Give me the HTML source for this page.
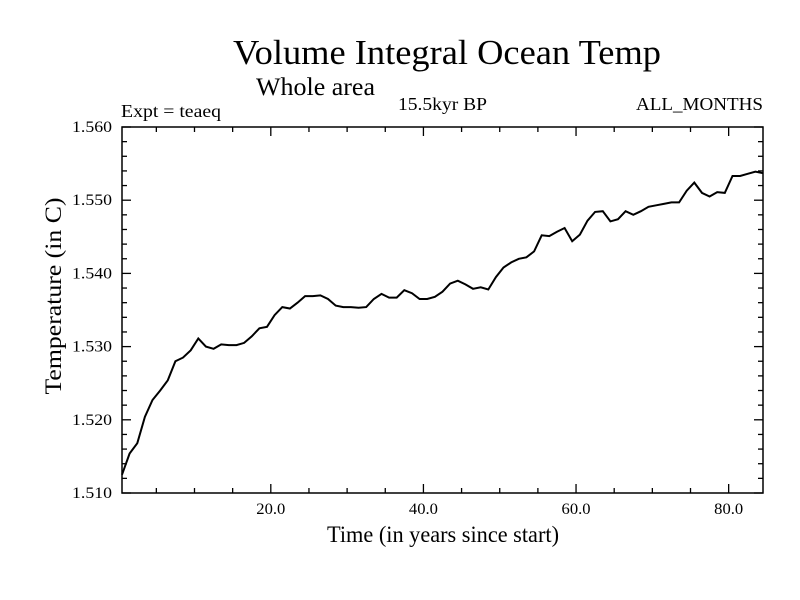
<!DOCTYPE html>
<html><head><meta charset="utf-8"><style>
body{margin:0;background:#fff;}
svg{display:block;font-family:"Liberation Serif",serif;}
</style></head><body>
<svg id="chart" width="800" height="600">
<text x="233" y="64" font-size="35" textLength="428" lengthAdjust="spacingAndGlyphs">Volume Integral Ocean Temp</text>
<text x="256" y="95" font-size="25" textLength="119" lengthAdjust="spacingAndGlyphs">Whole area</text>
<text x="121" y="117" font-size="18" textLength="100" lengthAdjust="spacingAndGlyphs">Expt = teaeq</text>
<text x="398" y="110" font-size="18" textLength="89" lengthAdjust="spacingAndGlyphs">15.5kyr BP</text>
<text x="636" y="110" font-size="18" textLength="127" lengthAdjust="spacingAndGlyphs">ALL_MONTHS</text>
<text x="327" y="542" font-size="23" textLength="232" lengthAdjust="spacingAndGlyphs">Time (in years since start)</text>
<text transform="translate(61,296) rotate(-90)" font-size="23" text-anchor="middle" textLength="197" lengthAdjust="spacingAndGlyphs">Temperature (in C)</text>
<g id="axes"></g>
<path id="line" fill="none" stroke="#000" stroke-width="2"></path>
<rect x="122" y="127" width="641" height="366" fill="none" stroke="#000" stroke-width="1.5"></rect>
</svg>
<script>
const years=[];
for(let i=0;i<85;i++)years.push(0.5+i);
const temps=[1.5125,1.5154,1.5168,1.5204,1.5227,1.5240,1.5254,1.5280,1.5285,1.5295,
1.5311,1.5300,1.5297,1.5303,1.5302,1.5302,1.5305,1.5314,1.5325,1.5327,
1.5343,1.5354,1.5352,1.5360,1.5369,1.5369,1.5370,1.5365,1.5356,1.5354,
1.5354,1.5353,1.5354,1.5365,1.5372,1.5367,1.5367,1.5377,1.5373,1.5365,
1.5365,1.5368,1.5375,1.5386,1.5390,1.5385,1.5379,1.5381,1.5378,1.5395,
1.5408,1.5415,1.5420,1.5422,1.5430,1.5452,1.5451,1.5457,1.5462,1.5444,
1.5453,1.5472,1.5484,1.5485,1.5471,1.5474,1.5485,1.5480,1.5485,1.5491,
1.5493,1.5495,1.5497,1.5497,1.5513,1.5524,1.5510,1.5505,1.5511,1.5510,
1.5533,1.5533,1.5536,1.5539,1.5537];
const xTickLabels=["20.0","40.0","60.0","80.0"];
const xTickValues=[20,40,60,80];
const yTickLabels=["1.510","1.520","1.530","1.540","1.550","1.560"];
const yTickValues=[1.51,1.52,1.53,1.54,1.55,1.56];
const L=122,R=763,T=127,B=493,X0=0.5,X1=84.5,Y0=1.51,Y1=1.56;
const sx=v=>L+(v-X0)/(X1-X0)*(R-L);
const sy=v=>B-(v-Y0)/(Y1-Y0)*(B-T);
const NS="http://www.w3.org/2000/svg";
const g=document.getElementById('axes');
function ln(x1,y1,x2,y2,name){const l=document.createElementNS(NS,'line');
l.setAttribute('x1',x1);l.setAttribute('y1',y1);l.setAttribute('x2',x2);l.setAttribute('y2',y2);
l.setAttribute('stroke','#000');l.setAttribute('stroke-width','1.3');


g.appendChild(l);}
function tx(x,y,s,anchor,name,len){const t=document.createElementNS(NS,'text');
t.setAttribute('x',x);t.setAttribute('y',y);t.setAttribute('font-size','16');t.setAttribute('text-anchor',anchor);t.textContent=s;
t.setAttribute('textLength',len);t.setAttribute('lengthAdjust','spacingAndGlyphs');


g.appendChild(t);}
for(let v=5;v<=X1;v+=5){const x=sx(v),big=v%20===0,len=big?9:5;
ln(x,B,x,B-len,'x-tick');ln(x,T,x,T+len,'x-tick-top');}
for(let k=0;k<=25;k++){const v=Y0+k*0.002,y=sy(v),big=k%5===0,len=big?9:5;
ln(L,y,L+len,y,'y-tick');ln(R,y,R-len,y,'y-tick-right');}
xTickValues.forEach((v,i)=>tx(sx(v),B+21,xTickLabels[i],'middle','x-tick-label',29));
yTickValues.forEach((v,i)=>tx(L-10,sy(v)+5,yTickLabels[i],'end','y-tick-label',40));
document.getElementById('line').setAttribute('d',years.map((x,i)=>(i?'L':'M')+sx(x).toFixed(1)+','+sy(temps[i]).toFixed(1)).join(''));
</script>
</body></html>
